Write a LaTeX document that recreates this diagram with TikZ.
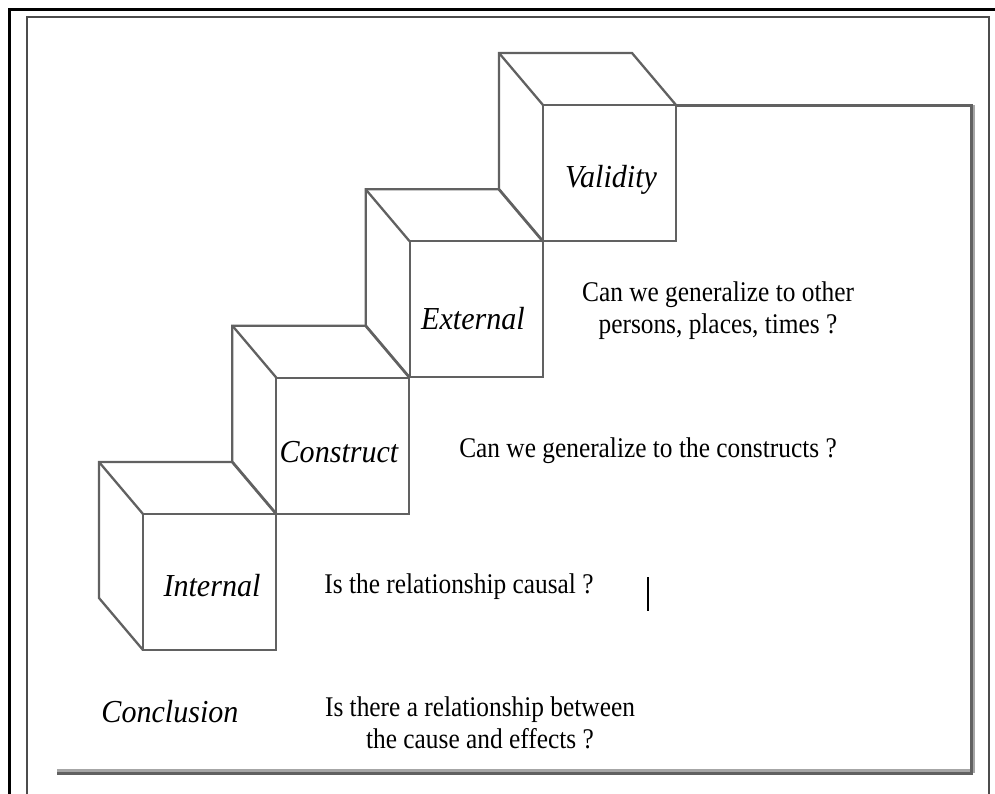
\documentclass[tikz,border=0pt]{standalone}
\usepackage{fontspec}
\setmainfont{Liberation Serif}[FakeStretch=0.89]
\newfontfamily\labfont{Liberation Serif}[FakeStretch=0.94]
\begin{document}
\begin{tikzpicture}[x=1pt,y=-1pt,
  cubeline/.style={draw=black!62,line width=2.3pt,line join=miter},
  frameline/.style={draw=black!62,line width=3pt},
  question/.style={font=\fontsize{28.5}{31.5}\selectfont,anchor=base,align=center,inner sep=0pt},
  label/.style={font=\fontsize{32}{36}\labfont\itshape,anchor=base,inner sep=0pt}]
\useasboundingbox (0,0) rectangle (995,794);
% outer borders
\draw[black,line width=3pt] (9.5,794) -- (9.5,10) -- (995,10);
\draw[black!70,line width=1.4pt] (27,794) -- (27,17) -- (989,17) -- (989,794);
% cubes
\foreach \i in {0,1,2,3}{
  \pgfmathsetmacro{\fx}{143+133.33*\i}
  \pgfmathsetmacro{\fy}{514-136.33*\i}
  \coordinate (ftl\i) at (\fx,\fy);
  \coordinate (ftr\i) at (\fx+133,\fy);
  \coordinate (fbr\i) at (\fx+133,\fy+136);
  \coordinate (fbl\i) at (\fx,\fy+136);
  \coordinate (btl\i) at (\fx-44,\fy-52);
  \coordinate (btr\i) at (\fx+89,\fy-52);
  \coordinate (bbl\i) at (\fx-44,\fy+84);
  \draw[cubeline] (ftl\i) rectangle (fbr\i);
  \draw[cubeline] (fbl\i) -- (bbl\i) -- (btl\i) -- (btr\i) -- (ftr\i);
  \draw[cubeline] (btl\i) -- (ftl\i);
}
% big frame
\coordinate (frBR) at (971,773);
\coordinate (frBL) at (57,773);
\coordinate (frTR) at (ftr3 -| frBR);
\draw[black!35,line width=3pt] ([yshift=2.5pt]frBL) -- ([yshift=2.5pt]frBR);
\draw[black!35,line width=3pt] ([xshift=2.5pt]frTR) -- ([xshift=2.5pt]frBR);
\draw[frameline] (ftr3) -- (frTR) -- (frBR) -- (frBL);
% cursor mark
\coordinate (m1) at (648,577);
\coordinate (m2) at (648,611);
\draw[black,line width=2pt] (m1) -- (m2);
% labels
\node[label] (validity) at (611,188) {Validity};
\node[label] (external) at (473,329) {External};
\node[label] (construct) at (339,462) {Construct};
\node[label] (internal) at (212,596) {Internal};
\node[label] (conclusion) at (170,722) {Conclusion};
% questions
\node[question] (q4) at (718,333) {Can we generalize to other\\persons, places, times ?};
\node[question] (q3) at (648,457) {Can we generalize to the constructs ?};
\node[question] (q2) at (459,593) {Is the relationship causal ?};
\node[question] (q1) at (480,748) {Is there a relationship between\\the cause and effects ?};
\end{tikzpicture}
\end{document}
